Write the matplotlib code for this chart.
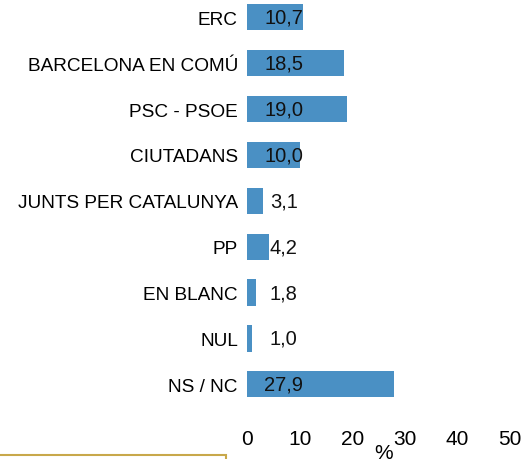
import matplotlib
matplotlib.use("Agg")
import matplotlib.pyplot as plt
from matplotlib.patches import Rectangle

categories = ["ERC", "BARCELONA EN COMÚ", "PSC - PSOE", "CIUTADANS",
              "JUNTS PER CATALUNYA", "PP", "EN BLANC", "NUL", "NS / NC"]
values = [10.7, 18.5, 19.0, 10.0, 3.1, 4.2, 1.8, 1.0, 27.9]
value_labels = ["10,7", "18,5", "19,0", "10,0", "3,1", "4,2", "1,8", "1,0", "27,9"]
xticks = [0, 10, 20, 30, 40, 50]

plt.rcParams['font.family'] = ['Liberation Sans', 'DejaVu Sans']

fig = plt.figure(figsize=(5.25, 4.6), dpi=100)
ax = fig.add_axes([247/525, 1 - 422/460, (510 - 247)/525, 422/460])

ypos = list(range(len(categories)))
ax.barh(ypos, values, height=0.57, color="#4A90C4")
for y, lab in zip(ypos, value_labels):
    ax.text(7.0, y, lab, ha="center", va="center", fontsize=14.5, color="#111111")

ax.set_xlim(0, 50)
ax.set_ylim(8.8, -0.4)
ax.set_yticks(ypos)
ax.set_yticklabels(categories, fontsize=13.7)
ax.set_xticks(xticks)
ax.set_xticklabels([str(t) for t in xticks], fontsize=15)
ax.tick_params(axis="both", length=0)
ax.tick_params(axis="y", pad=6.5)
ax.tick_params(axis="x", pad=6)
ax.set_xlabel("%", fontsize=15)
ax.xaxis.set_label_coords(0.52, -0.052)
for s in ax.spines.values():
    s.set_visible(False)

fig.patches.append(Rectangle((-0.01, -0.1), 226/525 + 0.01, 0.1 + (460 - 456)/460,
                             transform=fig.transFigure, fill=False,
                             edgecolor="#C8A84B", linewidth=1.5))

fig.savefig("out.png", dpi=100)
